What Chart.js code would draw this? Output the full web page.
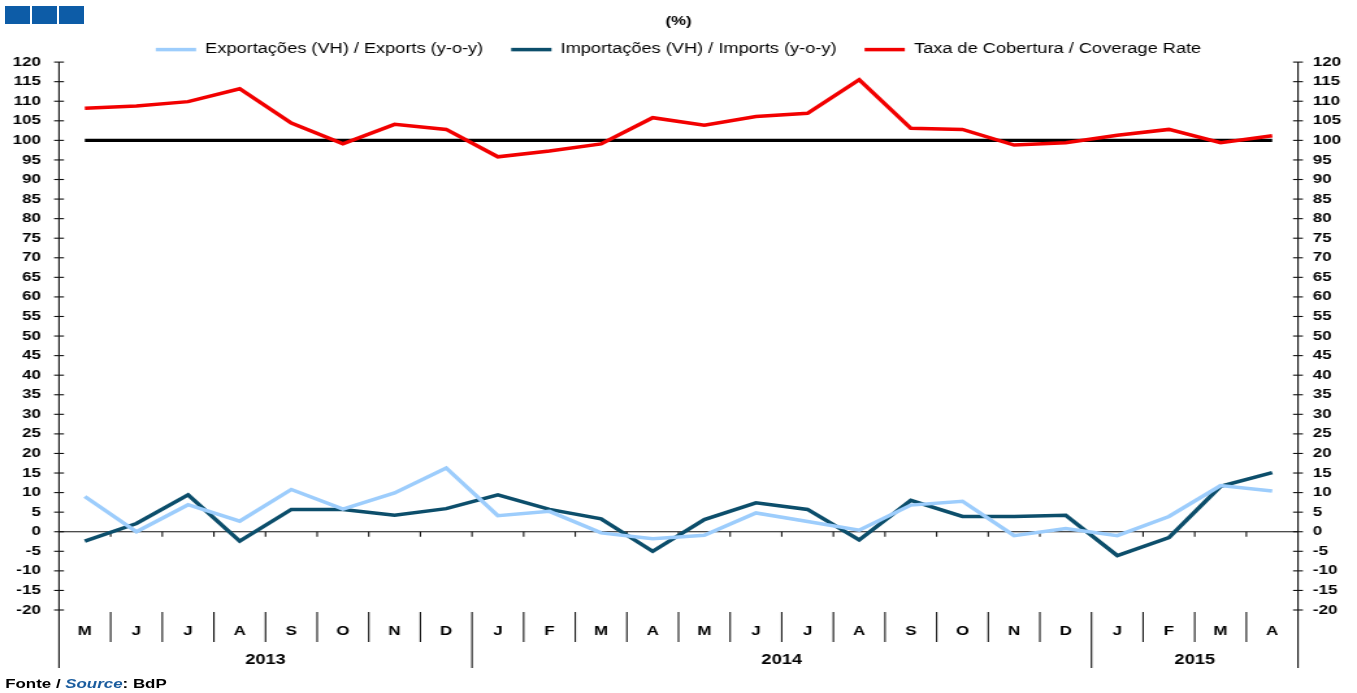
<!DOCTYPE html>
<html><head><meta charset="utf-8">
<script src="https://cdn.jsdelivr.net/npm/chart.js@4"></script>
<style>
html,body{margin:0;padding:0;background:#fff;}
#page{position:relative;width:1357px;height:693px;overflow:hidden;}
#wrap{position:absolute;left:0;top:0;width:1044px;height:693px;transform:scaleX(1.2998);transform-origin:0 0;}
canvas{position:absolute;left:0;top:0;}
.logo{position:absolute;top:6px;left:5px;display:flex;gap:2px}
.logo span{display:block;width:25px;height:18px;background:#0d5ca7}
.foot{position:absolute;left:4px;top:676px;font:bold 13px "Liberation Sans",Arial,sans-serif;color:#000;white-space:nowrap}
.foot i{color:#1a5c9e}
</style></head>
<body><div id="page">
<div id="wrap"><canvas id="c" width="1044" height="693"></canvas><div class="foot">Fonte / <i>Source</i>: BdP</div></div>
<div class="logo"><span></span><span></span><span></span></div>
</div>
<script>
const months = ['M','J','J','A','S','O','N','D','J','F','M','A','M','J','J','A','S','O','N','D','J','F','M','A'];
const yearLabels = ['2013','2014','2015'];
const yearStartIndex = [0, 8, 20];
const exportsYoY = [9, 0, 6.9, 2.7, 10.8, 5.8, 9.9, 16.3, 4.1, 5.2, -0.3, -1.8, -0.9, 4.8, 2.6, 0.4, 6.8, 7.8, -1.0, 0.8, -1.0, 3.9, 11.8, 10.4];
const importsYoY = [-2.4, 2.1, 9.4, -2.4, 5.7, 5.7, 4.2, 5.9, 9.4, 5.7, 3.3, -5.0, 3.1, 7.4, 5.7, -2.1, 8.0, 3.9, 3.9, 4.2, -6.1, -1.5, 11.6, 15.1];
const coverageRate = [108.2, 108.8, 109.9, 113.2, 104.4, 99.1, 104.1, 102.8, 95.8, 97.3, 99.1, 105.8, 103.9, 106.1, 106.9, 115.5, 103.1, 102.8, 98.8, 99.4, 101.3, 102.8, 99.4, 101.2];
const referenceLine = [100,100,100,100,100,100,100,100,100,100,100,100,100,100,100,100,100,100,100,100,100,100,100,100];
const yMin = -20, yMax = 120, yStep = 5;

const FAM = "'Liberation Sans', Arial, sans-serif";
const tickFont = {family: FAM, size: 13, weight: 'bold'};

const axisDecor = {
  id: 'axisDecor',
  beforeDatasetsDraw(chart) {
    const c = chart.ctx, a = chart.chartArea, xs = chart.scales.x, ys = chart.scales.y;
    const bottomEnd = a.bottom + 58;
    c.save();
    c.strokeStyle = '#111'; c.lineWidth = 1.1;
    [a.left, a.right].forEach(x => {
      c.beginPath(); c.moveTo(x, ys.getPixelForValue(yMax)); c.lineTo(x, bottomEnd); c.stroke();
      ys.ticks.forEach(t => {
        const y = ys.getPixelForValue(t.value);
        c.beginPath(); c.moveTo(x - 3.8, y); c.lineTo(x + 3.8, y); c.stroke();
      });
    });
    const y0 = ys.getPixelForValue(0);
    c.beginPath(); c.moveTo(a.left, y0); c.lineTo(a.right, y0); c.stroke();
    const half = (xs.getPixelForValue(1) - xs.getPixelForValue(0)) / 2;
    for (let i = 1; i < months.length; i++) {
      const bx = xs.getPixelForValue(i) - half;
      c.beginPath(); c.moveTo(bx, y0); c.lineTo(bx, y0 + 5); c.stroke();
      const isYear = yearStartIndex.includes(i);
      c.beginPath(); c.moveTo(bx, a.bottom + 2); c.lineTo(bx, isYear ? bottomEnd : a.bottom + 32); c.stroke();
    }
    c.fillStyle = '#000'; c.font = 'bold 14px ' + FAM; c.textAlign = 'center'; c.textBaseline = 'middle';
    yearLabels.forEach((lab, k) => {
      const s = yearStartIndex[k];
      const e = k + 1 < yearStartIndex.length ? yearStartIndex[k + 1] - 1 : months.length - 1;
      const x1 = s === 0 ? a.left : xs.getPixelForValue(s) - half;
      const x2 = e === months.length - 1 ? a.right : xs.getPixelForValue(e) + half;
      c.fillText(lab, (x1 + x2) / 2, a.bottom + 50);
    });
    c.restore();
  }
};

const lineDs = (label, data, color, width) => ({
  label, data, borderColor: color, backgroundColor: color, borderWidth: width,
  pointRadius: 0, tension: 0, fill: false, yAxisID: 'y'
});

new Chart(document.getElementById('c'), {
  type: 'line',
  data: {
    labels: months,
    datasets: [
      lineDs('Exportações (VH) / Exports (y-o-y)', exportsYoY, '#9dcdfc', 3.5),
      lineDs('Importações (VH) / Imports (y-o-y)', importsYoY, '#0c4e6b', 3.5),
      lineDs('Taxa de Cobertura / Coverage Rate', coverageRate, '#f20000', 3.5),
      lineDs('ref', referenceLine, '#000000', 3.2)
    ]
  },
  options: {
    responsive: false, animation: false, devicePixelRatio: 1,
    layout: {padding: {left: 0, right: 0, top: 0, bottom: 25}},
    plugins: {
      title: {display: true, text: '(%)', color: '#000', font: {family: FAM, size: 13, weight: 'bold'}, padding: {top: 14, bottom: -8.5}},
      legend: {
        maxHeight: 41,
        labels: {
          filter: item => item.datasetIndex < 3,
          usePointStyle: true, pointStyle: 'line', pointStyleWidth: 31,
          color: '#000', font: {family: FAM, size: 14}, padding: 21.5
        }
      },
      tooltip: {enabled: false}
    },
    scales: {
      x: {
        offset: true,
        grid: {display: false, drawTicks: false}, border: {display: false},
        ticks: {font: tickFont, color: '#000', padding: 14, maxRotation: 0, autoSkip: false},
        afterFit(s) { s.height = 58; }
      },
      y: {
        position: 'left', min: yMin, max: yMax,
        grid: {display: false, drawTicks: false}, border: {display: false},
        ticks: {stepSize: yStep, autoSkip: false, font: tickFont, color: '#000', padding: 14},
        afterFit(s) { s.width = 45.4; }
      },
      y2: {
        position: 'right', min: yMin, max: yMax,
        grid: {display: false, drawTicks: false}, border: {display: false},
        ticks: {stepSize: yStep, autoSkip: false, font: tickFont, color: '#000', padding: 11.5},
        afterFit(s) { s.width = 45.4; }
      }
    }
  },
  plugins: [axisDecor]
});
</script>
</body></html>
